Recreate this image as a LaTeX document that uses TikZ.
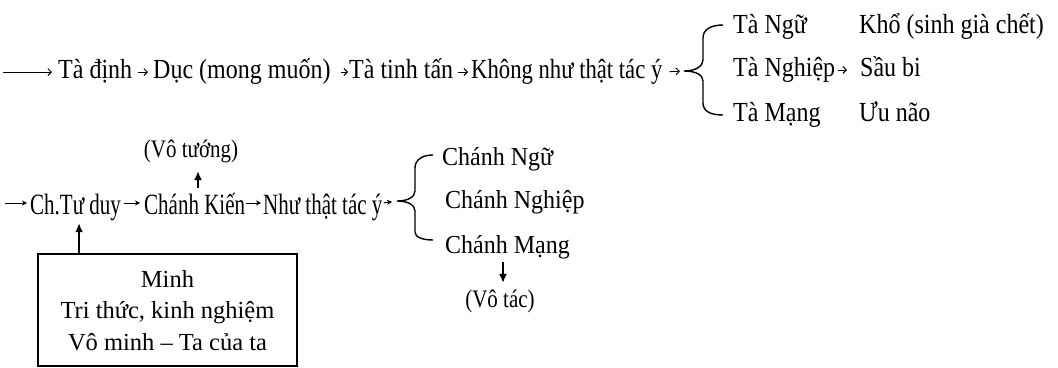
\documentclass[tikz,border=0pt]{standalone}
\usepackage{fontspec}
\setmainfont{Liberation Serif}
\usepackage{graphicx}
\usetikzlibrary{arrows.meta,calc}
\newcommand{\vsA}[1]{\scalebox{1}[1.15]{#1}}
\newcommand{\vsB}[1]{\scalebox{1}[1.4]{#1}}
\newcommand{\vsC}[1]{\scalebox{1}[1.08]{#1}}
\newcommand{\vsD}[1]{\scalebox{1}[1.2]{#1}}
\begin{document}
\begin{tikzpicture}[x=1pt,y=-1pt,
 t1/.style={anchor=base west, inner sep=0pt, font=\fontsize{24}{28}\selectfont, text height=18pt, text depth=6pt},
 t2/.style={anchor=base west, inner sep=0pt, font=\fontsize{21}{25}\selectfont, text height=22pt, text depth=0pt},
 tl/.style={anchor=base west, inner sep=0pt, font=\fontsize{24}{28}\selectfont, text height=18pt, text depth=6pt},
 tp/.style={anchor=base, inner sep=0pt, font=\fontsize{21}{25}\selectfont, text height=17pt, text depth=5pt},
 sarr/.style={line width=0.9pt, -{Straight Barb[length=3.5pt,width=7pt]}},
 marr/.style={line width=1pt, -{Stealth[length=5pt,width=5pt]}},
 varr/.style={line width=1.6pt, -{Latex[length=9pt,width=8pt]}},
 brc/.style={line width=1.4pt},
 boxst/.style={draw, line width=1.5pt, minimum width=259pt, minimum height=112pt, align=center,
   font=\fontsize{24.5}{31.5}\selectfont, text height=80pt, text depth=0pt, inner sep=0pt},
]
\useasboundingbox (0,0) rectangle (1058,367);

% ---- Row 1 ----
\coordinate (s1) at (3,72);
\node[t1] (n1) at (58,78) {\vsA{Tà định}};
\node[t1] (n2) at (153,78) {\vsA{Dục (mong muốn)}};
\node[t1] (n3) at (349,78) {\vsA{Tà tinh tấn}};
\node[t1] (n4) at (471,78) {\scalebox{0.945}[1.15]{Không như thật tác ý}};
\coordinate (b1) at (684,71);
\draw[brc] (723,25) .. controls (710,25) and (703,30) .. (703,38) -- (703,60)
  .. controls (703,66) and (696,71) .. (b1) .. controls (696,71) and (703,75) .. (703,81)
  -- (703,103) .. controls (703,111) and (710,115) .. (723,115);

\draw[sarr, shorten >=6pt] (s1) -- (n1.west);
\draw[sarr, shorten <=6pt, shorten >=5pt] (n1.east) -- (n2.west);
\draw[sarr, shorten <=10pt, shorten >=1pt] (n2.east) -- (n3.west);
\draw[sarr, shorten <=5pt, shorten >=3pt] (n3.east) -- (n4.west);
\draw[sarr, shorten <=7pt, shorten >=4pt] (n4.east) -- (b1);

\node[tl] (tn) at (733,33) {\vsA{Tà Ngữ}};
\node[tl] (kho) at (859,33) {\vsA{Khổ (sinh già chết)}};
\node[tl] (tng) at (733,76) {\vsA{Tà Nghiệp}};
\node[tl] (sau) at (860,76) {\vsA{Sầu bi}};
\node[tl] (tm) at (733,121) {\vsA{Tà Mạng}};
\node[tl] (uu) at (859,121) {\vsA{Ưu não}};
\draw[sarr, shorten <=3pt, shorten >=13pt] (tng.east) -- (sau.west);

% ---- Row 2 ----
\coordinate (s2) at (5,203);
\node[t2] (chtu) at (30,214) {\vsB{Ch.Tư duy}};
\node[t2] (kien) at (144,214) {\vsB{Chánh Kiến}};
\node[t2] (nhu) at (263,214) {\vsB{Như thật tác ý}};
\coordinate (b2) at (397,201);
\draw[brc] (433,155) .. controls (422,155) and (415,160) .. (415,168) -- (415,191)
  .. controls (415,197) and (408,201) .. (b2) .. controls (408,201) and (415,205) .. (415,211)
  -- (415,232) .. controls (415,237) and (422,240) .. (433,240);

\draw[marr, shorten >=3pt] (s2) -- (chtu.west);
\draw[marr, shorten <=3pt, shorten >=4pt] (chtu.east) -- (kien.west);
\draw[marr, shorten <=0.5pt, shorten >=2pt] (kien.east) -- (nhu.west);
\draw[marr, shorten <=1pt, shorten >=5pt] (nhu.east) -- (b2);

\node[tp] (votuong) at (191,157) {\vsD{(Vô tướng)}};
\coordinate (vt) at ([xshift=7pt]votuong.south);
\draw[varr, shorten <=4pt, shorten >=9pt] (vt |- kien.north) -- (vt);

\node[tl] (cn) at (442,165) {\vsC{Chánh Ngữ}};
\node[tl] (cng) at (445,208) {\vsC{Chánh Nghiệp}};
\node[tl] (mang) at (445,253) {\vsC{Chánh Mạng}};
\node[tp] (votac) at (500,307) {\vsD{(Vô tác)}};
\coordinate (vc) at ([xshift=3pt]votac.north);
\draw[varr, shorten <=3pt, shorten >=7pt] (vc |- mang.south) -- (vc);

% ---- Box ----
\node[boxst] (box) at (167.5,310) {Minh\\Tri thức, kinh nghiệm\\Vô minh – Ta của ta};
\coordinate (ca) at ([xshift=3.5pt]chtu.south);
\draw[varr, shorten >=9pt] (ca |- box.north) -- (ca);
\end{tikzpicture}
\end{document}
